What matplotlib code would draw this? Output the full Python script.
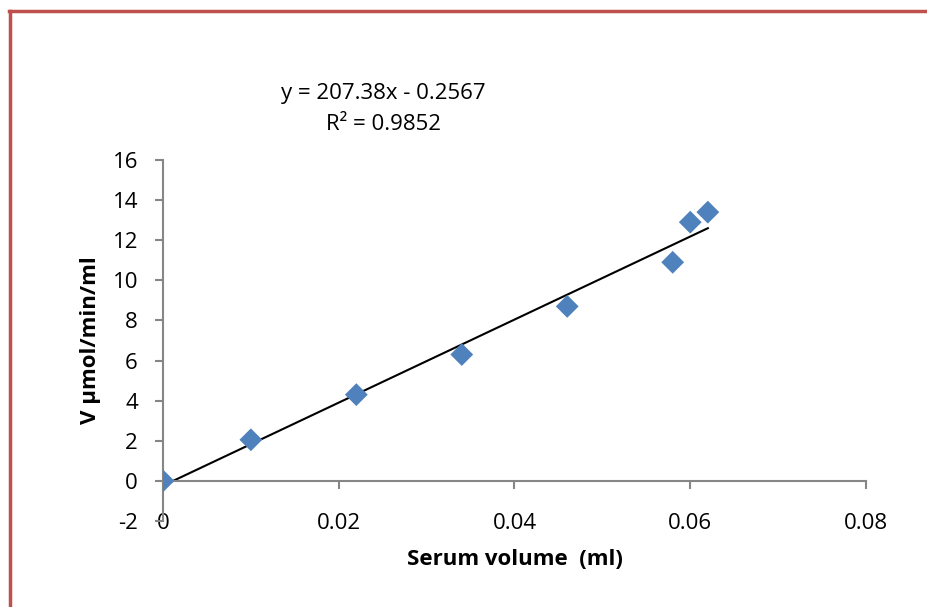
import numpy as np
import matplotlib.pyplot as plt
from matplotlib.lines import Line2D

# data
serum_volume = [0.0, 0.01, 0.022, 0.034, 0.046, 0.058, 0.06, 0.062]
velocity = [0.0, 2.05, 4.3, 6.3, 8.7, 10.9, 12.9, 13.4]
x_ticks = [0, 0.02, 0.04, 0.06, 0.08]
x_tick_labels = ['0', '0.02', '0.04', '0.06', '0.08']
y_ticks = [-2, 0, 2, 4, 6, 8, 10, 12, 14, 16]
y_tick_labels = ['-2', '0', '2', '4', '6', '8', '10', '12', '14', '16']

plt.rcParams['font.family'] = ['Open Sans', 'DejaVu Sans']

fig = plt.figure(figsize=(9.28, 6.07), dpi=100)
ax = fig.add_axes([163/928, 1 - 521/607, (866 - 163)/928, (521 - 160)/607])

ax.scatter(serum_volume, velocity, marker='D', s=135, color='#4F81BD',
           edgecolors='none', zorder=3)

# linear trend line
slope, intercept = np.polyfit(serum_volume, velocity, 1)
xs = np.array([serum_volume[0], serum_volume[-1]])
ax.plot(xs, slope * xs + intercept, color='black', lw=1.5, zorder=2)

ax.set_xlim(0, 0.08)
ax.set_ylim(-2, 16)
ax.set_xticks(x_ticks)
ax.set_xticklabels(x_tick_labels)
ax.set_yticks(y_ticks)
ax.set_yticklabels(y_tick_labels)

for s in ['top', 'right']:
    ax.spines[s].set_visible(False)
ax.spines['bottom'].set_position(('data', 0))
for s in ['left', 'bottom']:
    ax.spines[s].set_color('#868686')
    ax.spines[s].set_linewidth(1.5)
ax.tick_params(axis='both', colors='#868686', width=1.5, length=6,
               labelcolor='black', labelsize=16)
ax.tick_params(axis='x', pad=17)
ax.tick_params(axis='y', pad=12)

ax.set_xlabel('Serum volume  (ml)', fontsize=16, fontweight='bold', labelpad=11)
ax.set_ylabel('V µmol/min/ml', fontsize=16, fontweight='bold', labelpad=8)

fig.text(383/928, 1 - 93/607, 'y = 207.38x - 0.2567', fontsize=16,
         ha='center', va='center')
fig.text(383/928, 1 - 125/607, 'R² = 0.9852', fontsize=16,
         ha='center', va='center')

# red frame (only left and top edges visible)
fig.add_artist(Line2D([10.5/928, 10.5/928], [0, 1 - 10.5/607],
                      transform=fig.transFigure, color='#C0504D', lw=2.5))
fig.add_artist(Line2D([9.5/928, 1], [1 - 10.5/607, 1 - 10.5/607],
                      transform=fig.transFigure, color='#C0504D', lw=2.5))

fig.savefig('out.png', dpi=100)
